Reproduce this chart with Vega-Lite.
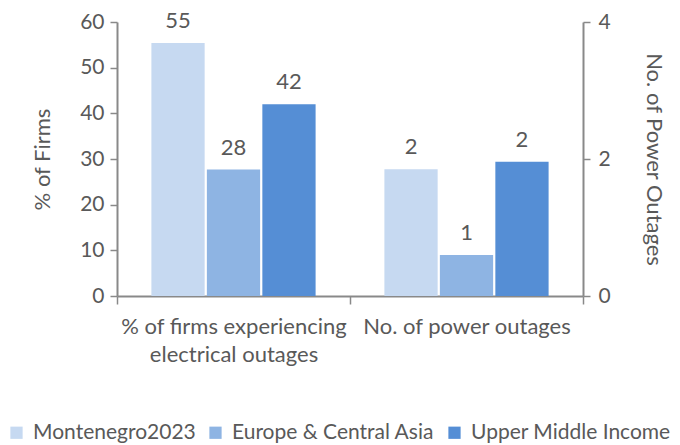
{
  "$schema": "https://vega.github.io/schema/vega-lite/v6.json",
  "width": 466,
  "height": 274,
  "autosize": {"type": "none"},
  "padding": {"left": 117, "top": 22, "right": 97, "bottom": 149},
  "config": {
    "font": "Lato",
    "view": {"stroke": null},
    "axis": {"labelColor": "#595959", "titleColor": "#595959", "domainColor": "#898989", "tickColor": "#898989", "grid": false, "labelFont": "Lato", "titleFont": "Lato", "titleFontWeight": "normal"},
    "legend": {"labelColor": "#595959", "labelFont": "Lato"}
  },
  "data": {
    "values": [
      {"cat": "% of firms experiencing electrical outages", "series": "Montenegro2023", "value": 55.4, "label": "55", "kind": "pct"},
      {"cat": "% of firms experiencing electrical outages", "series": "Europe & Central Asia", "value": 27.7, "label": "28", "kind": "pct"},
      {"cat": "% of firms experiencing electrical outages", "series": "Upper Middle Income", "value": 42.0, "label": "42", "kind": "pct"},
      {"cat": "No. of power outages", "series": "Montenegro2023", "value": 1.85, "label": "2", "kind": "num"},
      {"cat": "No. of power outages", "series": "Europe & Central Asia", "value": 0.6, "label": "1", "kind": "num"},
      {"cat": "No. of power outages", "series": "Upper Middle Income", "value": 1.96, "label": "2", "kind": "num"}
    ]
  },
  "encoding": {
    "x": {
      "field": "cat", "type": "nominal",
      "sort": ["% of firms experiencing electrical outages", "No. of power outages"],
      "scale": {"domain": ["% of firms experiencing electrical outages", "No. of power outages"], "paddingInner": 0, "paddingOuter": 0},
      "axis": {
        "title": null, "labelAngle": 0, "tickBand": "extent", "tickSize": 8, "tickWidth": 1.5,
        "domainWidth": 2, "labelFontSize": 22, "labelPadding": 12, "labelLineHeight": 28,
        "labelOverlap": false, "labelBound": false, "labelLimit": 0,
        "labelExpr": "datum.value == '% of firms experiencing electrical outages' ? ['% of firms experiencing', 'electrical outages'] : datum.value"
      }
    },
    "xOffset": {
      "field": "series", "type": "nominal",
      "sort": ["Montenegro2023", "Europe & Central Asia", "Upper Middle Income"],
      "scale": {"domain": ["Montenegro2023", "Europe & Central Asia", "Upper Middle Income"], "paddingInner": 0.04, "paddingOuter": 0.62}
    },
    "color": {
      "field": "series", "type": "nominal",
      "scale": {"domain": ["Montenegro2023", "Europe & Central Asia", "Upper Middle Income"], "range": ["#C6D9F1", "#8EB4E3", "#558ED5"]},
      "legend": {
        "title": null, "orient": "none", "direction": "horizontal", "legendX": -111, "legendY": 400,
        "symbolType": "square", "symbolSize": 150, "symbolStrokeWidth": 0, "labelFontSize": 21,
        "columnPadding": 9, "labelOffset": 6, "labelLimit": 0
      }
    }
  },
  "layer": [
    {
      "transform": [{"filter": "datum.kind == 'pct'"}],
      "encoding": {
        "y": {
          "field": "value", "type": "quantitative",
          "scale": {"domain": [0, 60], "nice": false},
          "axis": {"title": "% of Firms", "orient": "left", "values": [0, 10, 20, 30, 40, 50, 60], "tickSize": 7, "tickWidth": 1.5, "domainWidth": 2, "labelFontSize": 21, "labelPadding": 6, "titleFontSize": 22, "titlePadding": 25}
        }
      },
      "layer": [
        {"mark": {"type": "bar", "opacity": 1}},
        {"mark": {"type": "text", "dy": -22, "baseline": "middle", "fontSize": 22, "color": "#595959"}, "encoding": {"text": {"field": "label"}, "color": {"value": "#595959"}}}
      ]
    },
    {
      "transform": [{"filter": "datum.kind == 'num'"}],
      "encoding": {
        "y": {
          "field": "value", "type": "quantitative",
          "scale": {"domain": [0, 4], "nice": false},
          "axis": {"title": "No. of Power Outages", "orient": "right", "values": [0, 2, 4], "tickSize": 7, "tickWidth": 1.5, "domainWidth": 2, "labelFontSize": 21, "labelPadding": 8, "titleFontSize": 22, "titlePadding": 31, "titleAngle": 90}
        }
      },
      "layer": [
        {"mark": {"type": "bar", "opacity": 1}},
        {"mark": {"type": "text", "dy": -22, "baseline": "middle", "fontSize": 22, "color": "#595959"}, "encoding": {"text": {"field": "label"}, "color": {"value": "#595959"}}}
      ]
    }
  ],
  "resolve": {"scale": {"y": "independent"}}
}
